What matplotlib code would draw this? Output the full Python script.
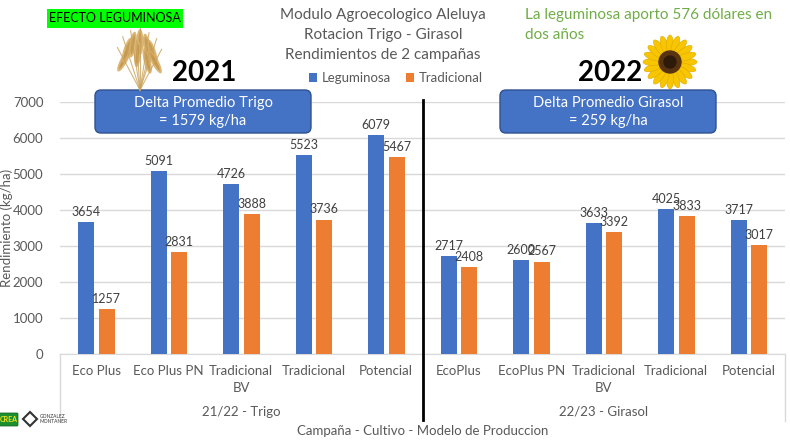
import matplotlib
matplotlib.use("Agg")
import matplotlib.pyplot as plt
from matplotlib.patches import FancyBboxPatch, Ellipse, Circle, Rectangle
import numpy as np

plt.rcParams['font.family'] = ['Lato', 'DejaVu Sans']

# data
categories = ["Eco Plus", "Eco Plus PN", "Tradicional\nBV", "Tradicional", "Potencial",
              "EcoPlus", "EcoPlus PN", "Tradicional\nBV", "Tradicional", "Potencial"]
leguminosa = [3654, 5091, 4726, 5523, 6079, 2717, 2600, 3633, 4025, 3717]
tradicional = [1257, 2831, 3888, 3736, 5467, 2408, 2567, 3392, 3833, 3017]
groups = ["21/22 - Trigo", "22/23 - Girasol"]
yticks = [0, 1000, 2000, 3000, 4000, 5000, 6000, 7000]
title_lines = ["Modulo Agroecologico Aleluya", "Rotacion Trigo - Girasol", "Rendimientos de 2 campañas"]
note_lines = ["La leguminosa aporto 576 dólares en", "dos años"]

BLUE = "#4472C4"
ORANGE = "#ED7D31"
GRAY = "#595959"
GRID = "#D9D9D9"

W, H = 790, 442
fig = plt.figure(figsize=(W / 100, H / 100), dpi=100)

# main axes (pixel box: x 60..785, y 102..354)
ax = fig.add_axes([60 / W, 1 - 354 / H, 725 / W, 252 / H])
x = np.arange(len(categories))
bw = 0.22
b1 = ax.bar(x - 0.14, leguminosa, bw, color=BLUE, label="Leguminosa", zorder=3)
b2 = ax.bar(x + 0.145, tradicional, bw, color=ORANGE, label="Tradicional", zorder=3)
ax.bar_label(b1, padding=3, fontsize=9, color="#404040")
ax.bar_label(b2, padding=3, fontsize=9, color="#404040")

ax.set_xlim(-0.5, len(categories) - 0.5)
ax.set_ylim(0, 7000)
ax.set_yticks(yticks)
ax.set_xticks(x)
ax.set_xticklabels(categories, fontsize=9.5, color=GRAY, linespacing=1.5)
ax.tick_params(axis="both", length=0, labelsize=9.5, labelcolor=GRAY)
ax.tick_params(axis="y", pad=12)
ax.tick_params(axis="x", pad=8)
ax.yaxis.grid(True, color=GRID, lw=1, zorder=0)
for s in ["top", "right", "left"]:
    ax.spines[s].set_visible(False)
ax.spines["bottom"].set_color(GRID)
ax.set_ylabel("Rendimiento (kg/ha)", fontsize=9.5, color=GRAY)
ax.yaxis.set_label_coords((13 - 60) / 725, 0.5)

# overlay in pixel coordinates for decorations
ov = fig.add_axes([0, 0, 1, 1])
ov.set_xlim(0, W)
ov.set_ylim(H, 0)
ov.axis("off")

# group divider lines under the category axis
ov.plot([60, 60], [354, 421], color=GRID, lw=1)
ov.plot([785, 785], [354, 421], color=GRID, lw=1)
ov.plot([422.5, 422.5], [100, 420], color="black", lw=2)

ov.text(241, 412, groups[0], ha="center", va="center", fontsize=9.5, color=GRAY)
ov.text(604, 412, groups[1], ha="center", va="center", fontsize=9.5, color=GRAY)
ov.text(423, 431, "Campaña - Cultivo - Modelo de Produccion", ha="center", va="center",
        fontsize=9.5, color=GRAY)

# title
for i, line in enumerate(title_lines):
    ov.text(383, 15 + 20 * i, line, ha="center", va="center", fontsize=11, color=GRAY)

# legend
fig.legend(handles=[b1, b2], loc="center", bbox_to_anchor=(396 / W, 1 - 78 / H), ncol=2,
           frameon=False, fontsize=9.5, labelcolor=GRAY, handlelength=0.6, handleheight=0.6,
           handletextpad=0.35, columnspacing=1.2)

# green note
for i, line in enumerate(note_lines):
    ov.text(525, 15 + 20 * i, line, ha="left", va="center", fontsize=11, color="#70AD47")

# EFECTO LEGUMINOSA label
ov.add_patch(Rectangle((47, 9), 136, 19, color="#00FF00", lw=0))
ov.text(115, 18.5, "EFECTO LEGUMINOSA", ha="center", va="center", fontsize=9, color="black")

# wheat bunch
base = (140, 90)
for ang, ln in [(-28, 48), (-18, 56), (-9, 60), (0, 62), (9, 58), (18, 54), (28, 46), (-4, 50), (14, 44)]:
    a = np.radians(ang)
    tipx = base[0] + ln * np.sin(a)
    tipy = base[1] - ln * np.cos(a)
    ov.plot([base[0], tipx], [base[1], tipy], color="#C9A25C", lw=0.8, alpha=0.8)
    cx = base[0] + (ln - 14) * np.sin(a)
    cy = base[1] - (ln - 14) * np.cos(a)
    ov.add_patch(Ellipse((cx, cy), 7, 26, angle=-ang, color="#D8AE66", alpha=0.9, lw=0))
    ov.add_patch(Ellipse((cx, cy), 3, 20, angle=-ang, color="#B88A3E", alpha=0.6, lw=0))

# years
ov.text(204, 73, "2021", ha="center", va="center", fontsize=20, fontweight="bold", color="black")
ov.text(610, 73, "2022", ha="center", va="center", fontsize=20, fontweight="bold", color="black")

# sunflower
c = (670, 62)
for k in range(20):
    a = 2 * np.pi * k / 20
    px = c[0] + 17 * np.cos(a)
    py = c[1] + 17 * np.sin(a)
    ov.add_patch(Ellipse((px, py), 20, 7, angle=np.degrees(a), color="#F7C600", ec="#E0A800", lw=0.4))
ov.add_patch(Circle(c, 11, color="#5A3410"))
ov.add_patch(Circle(c, 6, color="#2E1A08"))

# delta boxes
for (x0, x1, txt) in [(95, 311, "Delta Promedio Trigo\n= 1579 kg/ha"),
                      (500, 716, "Delta Promedio Girasol\n= 259 kg/ha")]:
    ov.add_patch(FancyBboxPatch((x0 + 6, 90 + 6), x1 - x0 - 12, 43 - 12,
                                boxstyle="round,pad=6", fc=BLUE, ec="#2F528F", lw=1))
    ov.text((x0 + x1) / 2, 112, txt, ha="center", va="center", fontsize=10.5, color="white",
            linespacing=1.35)

# logos bottom left
ov.add_patch(FancyBboxPatch((0, 414), 17, 11, boxstyle="round,pad=1", fc="#1E8F2E", ec="#0B5E18", lw=0.5))
ov.text(8.5, 419.5, "CREA", ha="center", va="center", fontsize=5, fontweight="bold", color="#F4E41C")
ov.plot([30], [419], marker="D", markersize=7, mfc="white", mec="#333333", mew=1.5)
ov.text(40, 419, "GONZALEZ\nMONTANER", ha="left", va="center", fontsize=3.5, color="#333333",
        linespacing=1.0)

fig.savefig("out.png", dpi=100)
